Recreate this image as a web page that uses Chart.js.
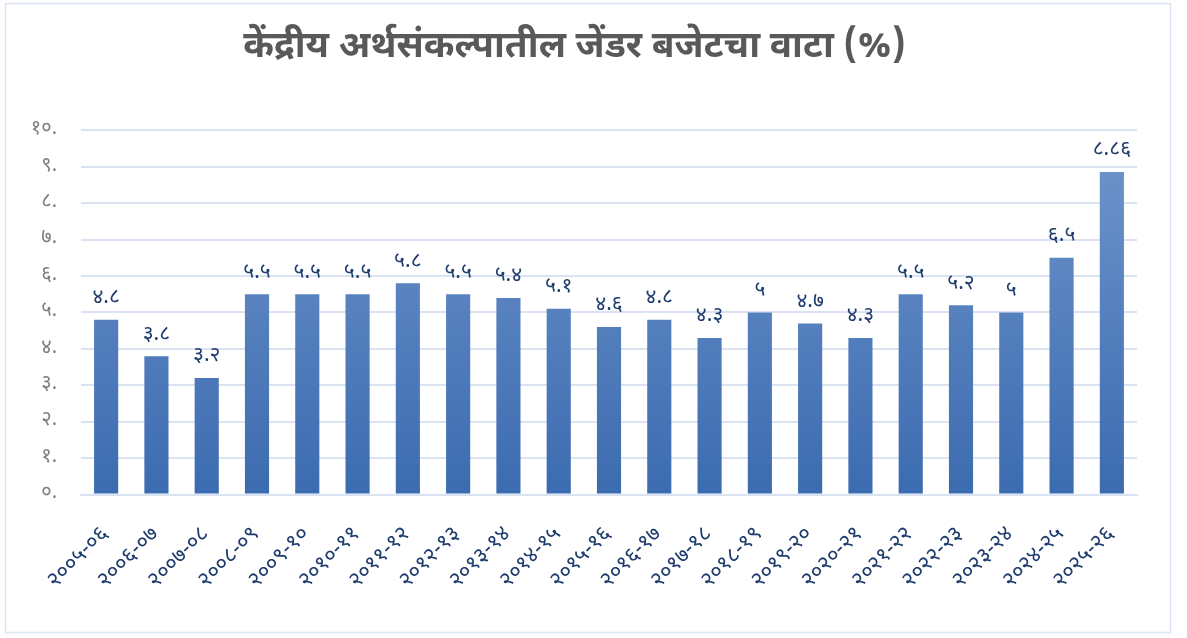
<!DOCTYPE html>
<html>
<head>
<meta charset="utf-8">
<script src="https://cdn.jsdelivr.net/npm/chart.js@4.4.0/dist/chart.umd.min.js"></script>
<style>
  body { margin: 0; background: #fff; }
  #wrap { width: 1187px; height: 638px; position: relative; }
</style>
</head>
<body>
<div id="wrap"><canvas id="genderChart"></canvas></div>
<script>
const years = ['2005-06', '2006-07', '2007-08', '2008-09', '2009-10', '2010-11', '2011-12',
  '2012-13', '2013-14', '2014-15', '2015-16', '2016-17', '2017-18', '2018-19', '2019-20',
  '2020-21', '2021-22', '2022-23', '2023-24', '2024-25', '2025-26'];
const sharePct = [4.8, 3.8, 3.2, 5.5, 5.5, 5.5, 5.8, 5.5, 5.4, 5.1, 4.6, 4.8, 4.3, 5, 4.7, 4.3, 5.5, 5.2, 5, 6.5, 8.86];
const titleText = 'केंद्रीय अर्थसंकल्पातील जेंडर बजेटचा वाटा (%)';

const devDigits = '०१२३४५६७८९';
function toDev(s) {
  return String(s).replace(/[0-9]/g, d => devDigits[d]);
}

const fontFam = '"Noto Sans Devanagari", "Noto Sans", "DejaVu Sans", sans-serif';

// labels over bars
const valueLabels = {
  id: 'valueLabels',
  afterDatasetsDraw(chart) {
    const ctx = chart.ctx;
    const meta = chart.getDatasetMeta(0);
    ctx.save();
    ctx.fillStyle = '#1f3c6e';
    ctx.font = '21px ' + fontFam;
    ctx.textAlign = 'center';
    ctx.textBaseline = 'bottom';
    meta.data.forEach((bar, i) => {
      ctx.fillText(toDev(sharePct[i]), bar.x, bar.y - 10);
    });
    ctx.restore();
  }
};

const frame = {
  id: 'frame',
  beforeDraw(chart) {
    const ctx = chart.ctx;
    ctx.save();
    ctx.fillStyle = '#fff';
    ctx.fillRect(0, 0, chart.width, chart.height);
    ctx.strokeStyle = '#dae3f0';
    ctx.lineWidth = 1.5;
    ctx.strokeRect(5.5, 3.5, 1165, 629);
    ctx.restore();
  }
};

const ctx = document.getElementById('genderChart').getContext('2d');
const chart = new Chart(ctx, {
  type: 'bar',
  data: {
    labels: years.map(toDev),
    datasets: [{
      data: sharePct,
      backgroundColor(c) {
        const area = c.chart.chartArea;
        if (!area) return '#4a79bd';
        const g = c.chart.ctx.createLinearGradient(0, area.top, 0, area.bottom);
        g.addColorStop(0, '#7196cc');
        g.addColorStop(1, '#3b6bb0');
        return g;
      },
      borderWidth: 0,
      categoryPercentage: 1,
      barPercentage: 0.48
    }]
  },
  options: {
    responsive: true,
    maintainAspectRatio: false,
    animation: false,
    layout: { padding: { left: 12, right: 50, top: 0, bottom: 23 } },
    plugins: {
      legend: { display: false },
      tooltip: { enabled: false },
      title: {
        display: true,
        text: titleText,
        color: '#595959',
        font: { family: fontFam, size: 37, weight: 'bold' },
        padding: { top: 28, bottom: 58 }
      }
    },
    scales: {
      x: {
        grid: { display: false },
        border: { color: '#d9e3f1', width: 2 },
        ticks: {
          color: '#1f3c6e',
          font: { family: fontFam, size: 22 },
          maxRotation: 45,
          minRotation: 45,
          autoSkip: false,
          padding: 20
        }
      },
      y: {
        min: 0,
        max: 10,
        afterFit(s) { s.width = 69; },
        grid: { color: '#d9e3f1', lineWidth: 2, drawTicks: false },
        border: { display: false },
        ticks: {
          stepSize: 1,
          color: '#7f7f7f',
          padding: 24,
          font: { family: fontFam, size: 20 },
          callback: v => toDev(v) + '.'
        }
      }
    }
  },
  plugins: [frame, valueLabels]
});
</script>
</body>
</html>
